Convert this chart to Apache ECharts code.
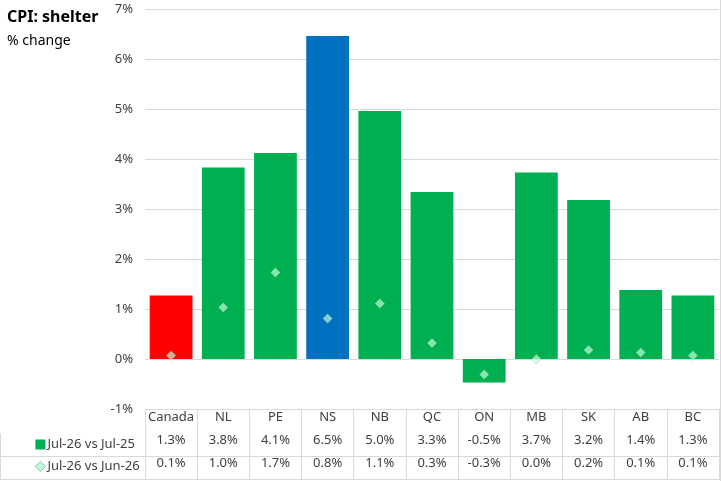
<!DOCTYPE html>
<html>
<head>
    <meta charset="UTF-8">
    <title>CPI: shelter</title>
    <script src="https://cdn.jsdelivr.net/npm/echarts@6/dist/echarts.min.js"></script>
    <style>
        html, body { margin: 0; padding: 0; background: #fff; }
        #chart { width: 721px; height: 481px; }
    </style>
</head>
<body>
    <div id="chart"></div>
    <script>
        // data
        var regions = ['Canada', 'NL', 'PE', 'NS', 'NB', 'QC', 'ON', 'MB', 'SK', 'AB', 'BC'];
        var yearly = [1.27, 3.83, 4.12, 6.46, 4.96, 3.34, -0.47, 3.73, 3.18, 1.38, 1.27];   // Jul-26 vs Jul-25
        var monthly = [0.07, 1.03, 1.73, 0.81, 1.11, 0.32, -0.31, 0.0, 0.18, 0.13, 0.07];  // Jul-26 vs Jun-26
        var seriesNames = ['Jul-26 vs Jul-25', 'Jul-26 vs Jun-26'];

        var green = '#00b050';
        var barColors = { 'Canada': '#ff0000', 'NS': '#0070c0' };
        var font = 'Noto Sans';
        var textColor = '#404040';
        var lineColor = '#d9d9d9';

        var option = {
            animation: false,
            textStyle: { fontFamily: font },
            title: {
                text: 'CPI: shelter',
                subtext: '% change',
                left: 2,
                top: 4,
                itemGap: 9,
                textStyle: { fontSize: 16, fontWeight: 'bold', color: '#000', fontFamily: font },
                subtextStyle: { fontSize: 14, color: '#000', fontFamily: font }
            },
            legend: {
                orient: 'vertical',
                left: 30,
                top: 433,
                itemGap: 9,
                itemWidth: 10,
                itemHeight: 10,
                textStyle: { fontSize: 13, color: textColor, padding: [0, 0, 0, -3] },
                data: [
                    { name: seriesNames[0], icon: 'rect', itemStyle: { color: green } },
                    { name: seriesNames[1], icon: 'diamond', itemStyle: { color: '#b8f5d2', borderColor: '#3cb878', borderWidth: 0.8 } }
                ]
            },
            grid: { left: 145, right: 2, top: 9, bottom: 72 },
            xAxis: {
                type: 'category',
                data: regions,
                position: 'bottom',
                axisLine: { onZero: false, lineStyle: { color: lineColor } },
                axisTick: { show: true, length: 70, lineStyle: { color: lineColor } },
                axisLabel: {
                    margin: -3,
                    interval: 0,
                    formatter: function (v, i) {
                        return '{c|' + v + '}\n{v|' + yearly[i].toFixed(1) + '%}\n{v|' + monthly[i].toFixed(1) + '%}';
                    },
                    rich: {
                        c: { fontSize: 13, lineHeight: 23, color: textColor, fontFamily: font },
                        v: { fontSize: 13, lineHeight: 23, color: textColor, fontFamily: font }
                    }
                }
            },
            yAxis: {
                type: 'value',
                min: -1,
                max: 7,
                interval: 1,
                axisLine: { show: false },
                axisTick: { show: false },
                axisLabel: { formatter: '{value}%', fontSize: 13, color: textColor, margin: 12 },
                splitLine: { lineStyle: { color: lineColor } }
            },
            series: [
                {
                    name: seriesNames[0],
                    type: 'bar',
                    barCategoryGap: '18%',
                    data: yearly.map(function (v, i) {
                        return { value: v, itemStyle: { color: barColors[regions[i]] || green } };
                    }),
                    itemStyle: { color: green }
                },
                {
                    name: seriesNames[1],
                    type: 'scatter',
                    symbol: 'diamond',
                    symbolSize: 10,
                    data: monthly,
                    itemStyle: { color: 'rgba(205,255,225,0.82)', borderColor: 'rgba(0,120,60,0.35)', borderWidth: 0.8 },
                    z: 3
                }
            ],
            graphic: [
                { type: 'line', shape: { x1: 0, y1: 456.5, x2: 720, y2: 456.5 }, style: { stroke: lineColor, lineWidth: 1 } },
                { type: 'line', shape: { x1: 0, y1: 479.5, x2: 720, y2: 479.5 }, style: { stroke: lineColor, lineWidth: 1 } },
                { type: 'line', shape: { x1: 0.5, y1: 433, x2: 0.5, y2: 480 }, style: { stroke: lineColor, lineWidth: 1 } },
                { type: 'line', shape: { x1: 720.5, y1: 0, x2: 720.5, y2: 481 }, style: { stroke: lineColor, lineWidth: 1 } }
            ]
        };

        var myChart = echarts.init(document.getElementById('chart'));
        myChart.setOption(option);
    </script>
</body>
</html>
